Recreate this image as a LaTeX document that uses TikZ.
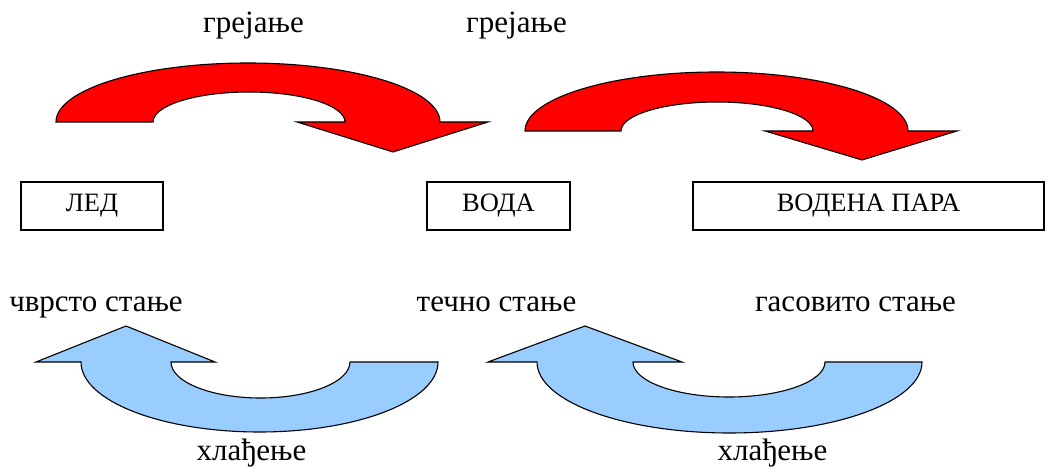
\documentclass[tikz,border=0pt]{standalone}
\usepackage{fontspec}
\setmainfont{Liberation Serif}
\definecolor{heatred}{RGB}{255,0,0}
\definecolor{coolblue}{RGB}{153,204,255}
\begin{document}
\begin{tikzpicture}[x=1pt,y=1pt,
  lbl/.style={anchor=base, inner sep=0pt, font=\fontsize{31}{31}\selectfont},
  box/.style={draw=black, line width=1.4pt, minimum height=48pt, inner sep=0pt, font=\fontsize{26.5}{26.5}\selectfont},
  heat/.style={fill=heatred, draw=black, line width=1.1pt, line join=miter},
  cool/.style={fill=coolblue, draw=black, line width=1.1pt, line join=miter}]
\useasboundingbox (0,0) rectangle (1049,466);
% red heating arrows
\draw[heat] (56,344) arc[start angle=180, end angle=0, x radius=192, y radius=59]
  -- (488,344) -- (393,314) -- (297,344) -- (345,344)
  arc[start angle=0, end angle=180, x radius=96, y radius=30] -- cycle;
\draw[heat] (525,335) arc[start angle=180, end angle=0, x radius=191.5, y radius=59]
  -- (957,335) -- (862,306) -- (765,335) -- (813,335)
  arc[start angle=0, end angle=180, x radius=96, y radius=29] -- cycle;
% blue cooling arrows
\draw[cool] (36,104) -- (126,140) -- (215,104) -- (171,104)
  arc[start angle=180, end angle=360, x radius=89.5, y radius=36]
  -- (438,104) arc[start angle=0, end angle=-180, x radius=178.5, y radius=70] -- cycle;
\draw[cool] (488,104) -- (585,140) -- (682,104) -- (633,104)
  arc[start angle=180, end angle=360, x radius=96, y radius=35]
  -- (922,104) arc[start angle=0, end angle=-180, x radius=192.5, y radius=71] -- cycle;
% boxes
\node[box, minimum width=142pt] (led) at (92,260) {ЛЕД};
\node[box, minimum width=143pt] (voda) at (498.5,260) {ВОДА};
\node[box, minimum width=351pt] (para) at (868.5,260) {ВОДЕНА ПАРА};
% labels
\node[lbl] (g1) at (253.5,433) {грејање};
\node[lbl] (g2) at (516.5,433) {грејање};
\node[lbl] (s1) at (96,154) {чврсто стање};
\node[lbl] (s2) at (496.5,154) {течно стање};
\node[lbl] (s3) at (855.5,154) {гасовито стање};
\node[lbl] (h1) at (251.5,6) {хлађење};
\node[lbl] (h2) at (772.5,6) {хлађење};
\end{tikzpicture}
\end{document}
